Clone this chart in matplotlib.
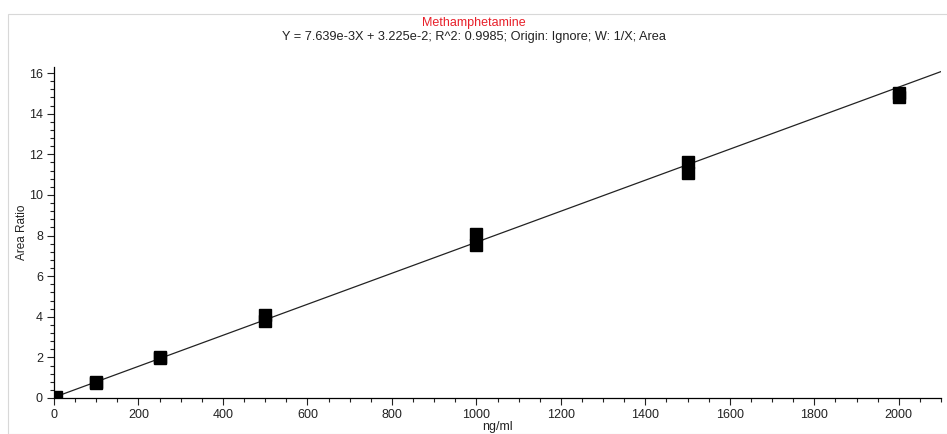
import numpy as np
import matplotlib.pyplot as plt
from matplotlib.ticker import MultipleLocator
from matplotlib.patches import Rectangle

plt.rcParams['font.family'] = ['Liberation Sans', 'DejaVu Sans']

# Calibration points (replicates per level)
conc = [5, 100, 100, 250, 250, 500, 500, 1000, 1000, 1500, 1500, 2000, 2000]
area_ratio = [0.05, 0.80, 0.76, 2.02, 1.95, 4.08, 3.80, 8.08, 7.52, 11.60, 11.07, 15.02, 14.83]

# Fit from the title
slope = 7.639e-3
intercept = 3.225e-2
line_x = [0, 2100]

fig = plt.figure(figsize=(9.47, 4.34), dpi=100)
ax = fig.add_axes([54 / 947, 1 - 398 / 434, (941 - 54) / 947, (398 - 67) / 434])

# light frame around the plot area
fig.patches.append(Rectangle((8 / 947, 0), 1, 1 - 14 / 434, transform=fig.transFigure,
                             fill=False, edgecolor='#d8d8d8', linewidth=0.8))

lx = np.array(line_x)
ax.plot(lx, slope * lx + intercept, color='#222222', linewidth=0.9, zorder=2)
ax.plot(conc, area_ratio, 's', color='black', markersize=8, zorder=3)

ax.set_xlim(0, 2100)
ax.set_ylim(0, 16.3)
ax.xaxis.set_major_locator(MultipleLocator(200))
ax.xaxis.set_minor_locator(MultipleLocator(50))
ax.yaxis.set_major_locator(MultipleLocator(2))
ax.yaxis.set_minor_locator(MultipleLocator(0.4))

for s in ['top', 'right']:
    ax.spines[s].set_visible(False)
for s in ['left', 'bottom']:
    ax.spines[s].set_linewidth(0.9)

ax.tick_params(which='major', length=5, width=0.8, labelsize=9, pad=3, colors='#222222')
ax.tick_params(which='minor', length=3, width=0.8, colors='#222222')

ax.set_ylabel('Area Ratio', fontsize=8.5, color='#222222')
ax.yaxis.set_label_coords(-26 / 887, 0.5)
ax.set_xlabel('ng/ml', fontsize=9, color='#222222', va='center')
ax.xaxis.set_label_coords(0.5, -29 / 331)

fig.text(0.5, 1 - 23 / 434, 'Methamphetamine', color='#e8202a', fontsize=9,
         ha='center', va='center')
fig.text(0.5, 1 - 37 / 434, 'Y = 7.639e-3X + 3.225e-2; R^2: 0.9985; Origin: Ignore; W: 1/X; Area',
         color='#222222', fontsize=9.2, ha='center', va='center')

fig.savefig('out.png', dpi=100)
